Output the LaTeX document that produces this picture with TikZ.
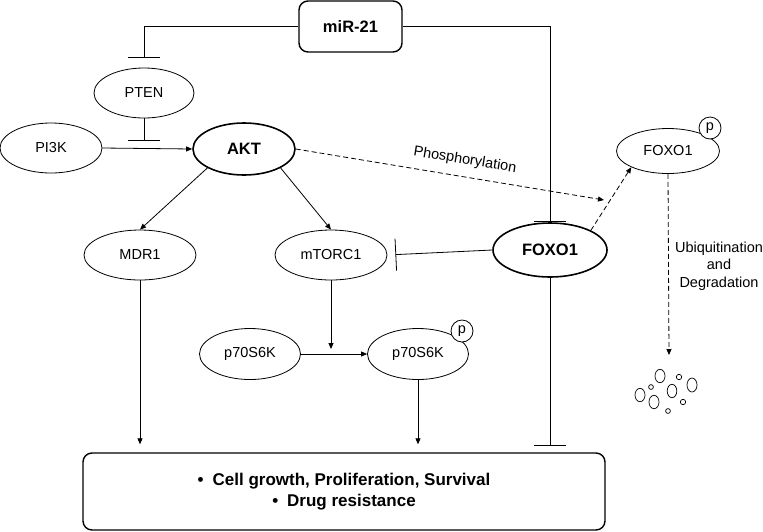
\documentclass[tikz,border=0pt]{standalone}
\usepackage{fontspec}
\setmainfont{Liberation Sans}
\usetikzlibrary{shapes.geometric,arrows.meta}
\begin{document}
\begin{tikzpicture}[x=1pt,y=-1pt,
  mol/.style={ellipse,draw,line width=0.8pt,inner sep=0pt,minimum width=102pt,minimum height=50pt,font=\fontsize{14.5}{17}\selectfont},
  key/.style={mol,line width=1.6pt,font=\fontsize{16.5}{19}\selectfont\bfseries},
  panel/.style={draw,rounded corners=9pt,line width=1.4pt,inner sep=0pt,font=\fontsize{16.5}{20}\selectfont\bfseries,align=center},
  phos/.style={circle,draw,line width=0.8pt,fill=white,minimum size=22pt,inner sep=0pt,font=\fontsize{14.5}{17}\selectfont},
  act/.style={line width=0.8pt,-{Triangle[length=6pt,width=5pt]}},
  inh/.style={line width=0.8pt,-{Bar[width=32pt,line width=0.8pt]}},
  deg/.style={act,dash pattern=on 5pt off 3pt}]
  \useasboundingbox (0,0) rectangle (763,531);
  \node[panel,minimum width=103pt,minimum height=51pt] (mir) at (350.5,26.5) {miR-21};
  \node[mol,minimum width=100pt] (pten) at (144,93) {PTEN};
  \node[mol] (pi3k) at (51,148) {PI3K};
  \node[key,minimum height=52pt] (akt) at (244,149) {AKT};
  \node[mol,minimum width=112pt] (mdr) at (140,255) {MDR1};
  \node[mol,minimum width=112pt] (mtorc) at (331,255) {mTORC1};
  \node[key,minimum width=114pt,minimum height=54pt] (foxo) at (550,250) {FOXO1};
  \node[mol,minimum width=103pt,minimum height=45pt] (pfoxo) at (668,151) {FOXO1};
  \node[phos] (pfoxop) at (710,128) {p};
  \node[mol,minimum width=101pt,minimum height=51pt] (p70a) at (250,354) {p70S6K};
  \node[mol,minimum width=101pt,minimum height=51pt] (p70b) at (418,354) {p70S6K};
  \node[phos] (p70p) at (462,331) {p};
  \node[panel,minimum width=522pt,minimum height=77pt,font=\fontsize{17}{20.5}\selectfont\bfseries] (res) at (344,491.5) {\textbullet\hspace{9pt}Cell growth, Proliferation, Survival\\\textbullet\hspace{9pt}Drug resistance};
  \node[align=center,font=\fontsize{14.5}{17.5}\selectfont] (ubq) at (719,266) {Ubiquitination\\and\\Degradation};
  \coordinate (ptenbar) at (144,141);
  \coordinate (phend) at (604,200);
  \coordinate (degend) at (669,355);
  \draw[inh,shorten >=10pt] (mir.west) -| (pten.north);
  \draw[inh] (pten.south) -- (ptenbar);
  \draw[act] (pi3k.east) -- (akt.west);
  \draw[act] (akt.south west) -- (mdr.north);
  \draw[act] (akt.south east) -- (mtorc.north);
  \draw[inh] (mir.east) -| (foxo.north);
  \draw[inh,shorten >=8pt] (foxo.west) -- (mtorc.east);
  \draw[deg] (akt.east) -- node[sloped,above=6pt,pos=0.54,font=\fontsize{14.5}{17}\selectfont] {Phosphorylation} (phend);
  \draw[deg] (foxo.north east) -- (pfoxo.south west);
  \draw[deg] (pfoxo.south) -- (degend);
  \draw[act,shorten >=8pt] (mdr.south) -- (mdr.south |- res.north);
  \draw[act,shorten >=5pt] (mtorc.south) -- (mtorc.south |- p70a.east);
  \draw[act] (p70a.east) -- (p70b.west);
  \draw[act,shorten >=8pt] (p70b.south) -- (p70b.south |- res.north);
  \draw[inh,shorten >=7pt] (foxo.south) -- (foxo.south |- res.north);
  \foreach \bx/\by/\rx/\ry in {660/376/5pt/6.7pt,679/377/2.7pt/2.7pt,651/387/2.4pt/2.4pt,672/391/4.8pt/6.7pt,692/385/5pt/7pt,640/395/5pt/6.7pt,654/402/5pt/6.7pt,683/402/2.7pt/2.7pt,668/411/2.4pt/2.4pt}
    \draw[line width=0.7pt] (\bx,\by) ellipse [x radius=\rx,y radius=\ry];
\end{tikzpicture}
\end{document}
